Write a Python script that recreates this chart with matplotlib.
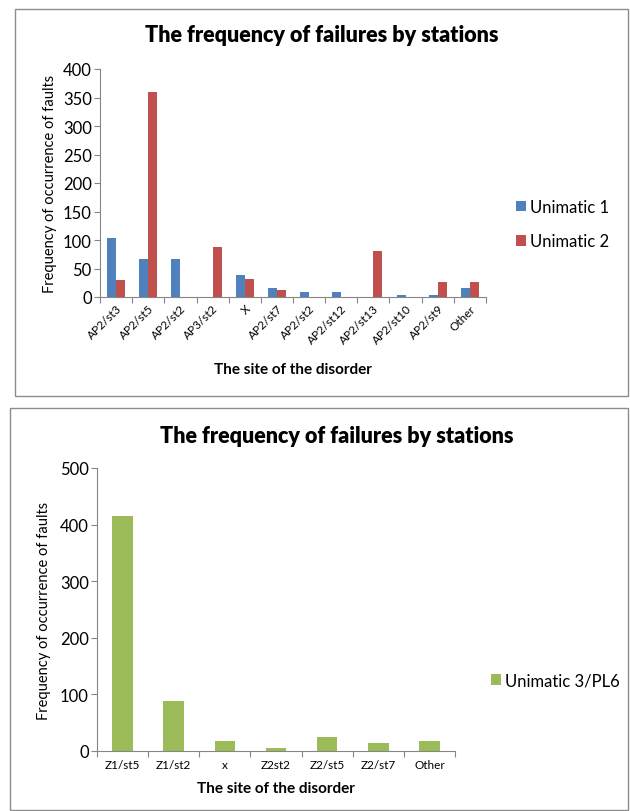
import matplotlib.pyplot as plt
import matplotlib.patches as patches
import numpy as np

plt.rcParams['font.family'] = ['Lato', 'DejaVu Sans']

# top chart data
sites_top = ['AP2/st3', 'AP2/st5', 'AP2/st2', 'AP3/st2', 'X', 'AP2/st7',
             'AP2/st2', 'AP2/st12', 'AP2/st13', 'AP2/st10', 'AP2/st9', 'Other']
unimatic1 = [104, 67, 67, 0, 38, 16, 9, 9, 0, 3, 3, 16]
unimatic2 = [30, 359, 0, 88, 32, 13, 0, 0, 80, 0, 27, 27]

# bottom chart data
sites_bottom = ['Z1/st5', 'Z1/st2', 'x', 'Z2st2', 'Z2/st5', 'Z2/st7', 'Other']
unimatic3 = [415, 88, 18, 5, 24, 15, 18]

BLUE = '#4F81BD'
RED = '#C0504D'
GREEN = '#9BBB59'
W, H = 630, 812


def fx(px):
    return px / W


def fy(py):
    return 1 - py / H


def style_axes(ax, n, ymax, step):
    ax.set_xlim(-0.5, n - 0.5)
    ax.set_ylim(0, ymax)
    ax.set_yticks(np.arange(0, ymax + 1, step))
    for s in ['top', 'right']:
        ax.spines[s].set_visible(False)
    ax.spines['left'].set_color('#868686')
    ax.spines['bottom'].set_color('#868686')
    ax.tick_params(axis='y', direction='out', length=4, color='#868686',
                   labelsize=12, pad=2)
    # category separators as ticks, like excel
    ax.set_xticks(np.arange(-0.5, n, 1), minor=False)
    ax.set_xticklabels([])
    ax.tick_params(axis='x', which='major', direction='out', length=4,
                   color='#868686')
    ax.tick_params(axis='x', which='minor', length=0)


fig = plt.figure(figsize=(W / 100, H / 100), dpi=100)

# frames
fig.patches.append(patches.Rectangle((fx(15), fy(397)), fx(613), 387 / H,
                                     transform=fig.transFigure, fill=False,
                                     edgecolor='#8c8c8c', linewidth=1))
fig.patches.append(patches.Rectangle((fx(10), fy(811)), fx(618), 402 / H,
                                     transform=fig.transFigure, fill=False,
                                     edgecolor='#8c8c8c', linewidth=1))

# ---- top chart
ax1 = fig.add_axes([fx(100), fy(298), fx(386), 228 / H])
x = np.arange(len(sites_top))
bw = 0.28
ax1.bar(x - bw / 2, unimatic1, bw, color=BLUE, label='Unimatic 1')
ax1.bar(x + bw / 2, unimatic2, bw, color=RED, label='Unimatic 2')
style_axes(ax1, len(sites_top), 400, 50)
ax1.set_xticks(x, minor=True)
ax1.set_xticklabels(sites_top, minor=True, rotation=45, ha='right',
                    rotation_mode='anchor', fontsize=8.5)
ax1.tick_params(axis='x', which='minor', pad=4)
ax1.set_ylabel('Frequency of occurrence of faults', fontsize=10.5, labelpad=4)
ax1.set_xlabel('The site of the disorder', fontsize=11, fontweight='bold',
               labelpad=12)
ax1.legend(loc='center left', bbox_to_anchor=(1.04, 0.32), frameon=False,
           fontsize=12, handlelength=0.6, handleheight=0.6, handletextpad=0.2,
           labelspacing=1.1)
fig.text(fx(322), fy(35), 'The frequency of failures by stations',
         ha='center', va='center', fontsize=15.5, fontweight='heavy')

# ---- bottom chart
ax2 = fig.add_axes([fx(97), fy(752), fx(358), 283 / H])
x2 = np.arange(len(sites_bottom))
ax2.bar(x2, unimatic3, 0.4, color=GREEN, label='Unimatic 3/PL6')
style_axes(ax2, len(sites_bottom), 500, 100)
ax2.set_xticks(x2, minor=True)
ax2.set_xticklabels(sites_bottom, minor=True, fontsize=8.5)
ax2.tick_params(axis='x', which='minor', pad=6)
ax2.set_ylabel('Frequency of occurrence of faults', fontsize=10.5, labelpad=6)
ax2.set_xlabel('The site of the disorder', fontsize=11, fontweight='bold',
               labelpad=8)
ax2.legend(loc='center left', bbox_to_anchor=(1.06, 0.25), frameon=False,
           fontsize=12, handlelength=0.6, handleheight=0.6, handletextpad=0.2)
fig.text(fx(337), fy(437), 'The frequency of failures by stations',
         ha='center', va='center', fontsize=15.5, fontweight='heavy')

fig.savefig('out.png', dpi=100)
